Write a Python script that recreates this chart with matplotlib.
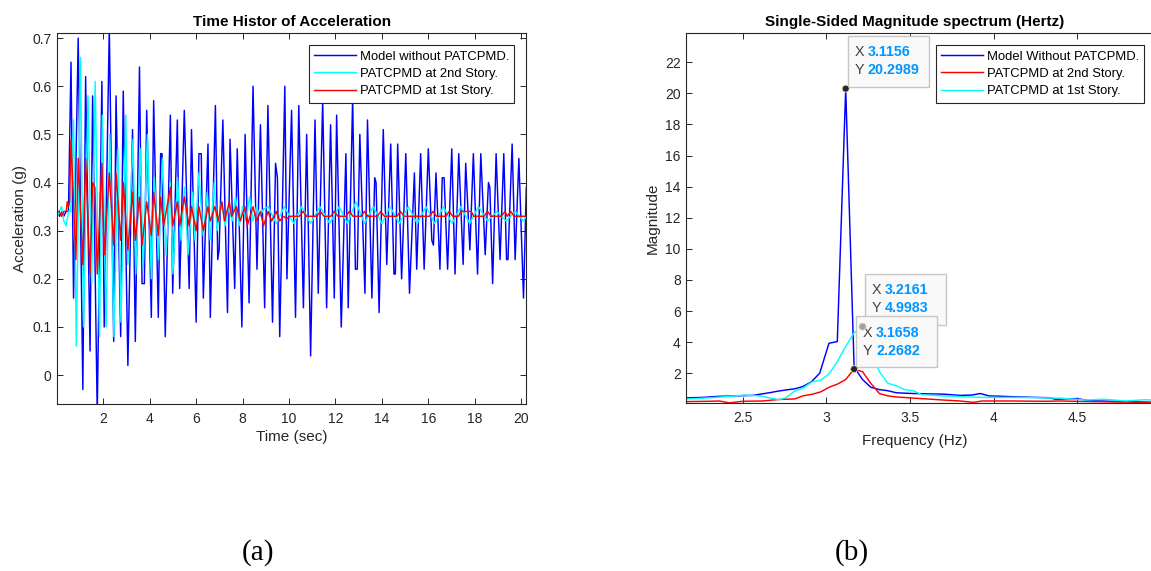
import matplotlib
matplotlib.use("Agg")
import matplotlib.pyplot as plt
from matplotlib.patches import Rectangle, Ellipse

plt.rcParams['font.family'] = ['Liberation Sans', 'DejaVu Sans']

# ---------------- data: time history (left) ----------------
t_blue = [0.02, 0.12, 0.22, 0.30, 0.40, 0.50, 0.61, 0.72, 0.92, 1.12, 1.24, 1.43, 1.54, 1.74,
          1.94, 2.04, 2.26, 2.45, 2.55, 2.75, 2.86, 3.06, 3.26, 3.38, 3.56, 3.67, 3.77, 3.87,
          4.07, 4.17, 4.37, 4.47, 4.53, 4.67, 4.89, 4.99, 5.19, 5.29, 5.49, 5.70, 5.80, 6.00,
          6.12, 6.22, 6.31, 6.51, 6.61, 6.83, 6.93, 6.99, 7.15, 7.35, 7.46, 7.66, 7.77, 7.97,
          8.11, 8.28, 8.45, 8.62, 8.77, 8.95, 9.09, 9.29, 9.42, 9.50, 9.60, 9.82, 9.91, 10.11,
          10.28, 10.42, 10.62, 10.76, 10.93, 11.12, 11.26, 11.45, 11.62, 11.79, 11.95, 12.05,
          12.25, 12.45, 12.55, 12.74, 12.86, 12.94, 13.05, 13.27, 13.38, 13.57, 13.69, 13.75,
          13.88, 14.06, 14.21, 14.38, 14.52, 14.58, 14.68, 14.85, 15.03, 15.19, 15.40, 15.50,
          15.67, 15.82, 16.00, 16.15, 16.22, 16.33, 16.50, 16.60, 16.68, 16.83, 17.01, 17.15,
          17.31, 17.50, 17.61, 17.79, 17.94, 18.12, 18.26, 18.45, 18.59, 18.65, 18.77, 18.92,
          19.09, 19.25, 19.37, 19.43, 19.61, 19.74, 19.90, 20.10, 20.22]
v_blue = [0.34, 0.33, 0.34, 0.33, 0.34, 0.34, 0.65, 0.16, 0.70, -0.03, 0.62, 0.05, 0.58, -0.08,
          0.61, 0.10, 0.72, 0.07, 0.58, 0.08, 0.59, 0.02, 0.51, 0.07, 0.64, 0.19, 0.19, 0.55,
          0.12, 0.57, 0.12, 0.46, 0.46, 0.08, 0.54, 0.17, 0.53, 0.18, 0.55, 0.18, 0.51, 0.11,
          0.46, 0.46, 0.16, 0.48, 0.12, 0.56, 0.24, 0.26, 0.53, 0.13, 0.49, 0.18, 0.47, 0.10,
          0.50, 0.15, 0.60, 0.22, 0.52, 0.14, 0.56, 0.11, 0.44, 0.41, 0.08, 0.60, 0.20, 0.55,
          0.12, 0.56, 0.14, 0.50, 0.04, 0.53, 0.17, 0.57, 0.14, 0.52, 0.16, 0.54,
          0.10, 0.46, 0.14, 0.575, 0.22, 0.22, 0.50, 0.17, 0.53, 0.16, 0.41, 0.40,
          0.13, 0.51, 0.23, 0.48, 0.21, 0.21, 0.48, 0.20, 0.46, 0.17, 0.42, 0.22,
          0.46, 0.22, 0.47, 0.28, 0.27, 0.42, 0.22, 0.41, 0.41, 0.22, 0.47, 0.21,
          0.46, 0.23, 0.44, 0.26, 0.46, 0.21, 0.46, 0.25, 0.40, 0.39, 0.19, 0.46,
          0.24, 0.46, 0.24, 0.24, 0.48, 0.24, 0.45, 0.16, 0.39]

t_cyan = [0.02, 0.10, 0.20, 0.30, 0.40, 0.50, 0.60, 0.72, 0.84, 1.02, 1.15, 1.34, 1.50, 1.65,
          1.84, 1.96, 2.12, 2.28, 2.46, 2.63, 2.76, 2.97, 3.06, 3.28, 3.40, 3.60, 3.72, 3.90,
          4.07, 4.20, 4.38, 4.55, 4.70, 4.89, 5.00, 5.20, 5.35, 5.50, 5.65, 5.86, 5.95, 6.12,
          6.30, 6.48, 6.60, 6.78, 6.90, 7.10, 7.25, 7.40, 7.55, 7.70, 7.85, 8.00, 8.15, 8.30,
          8.45, 8.60, 8.75, 8.90, 9.10, 9.45, 9.80, 10.20, 10.54, 10.93, 11.33, 11.75, 12.16,
          12.52, 12.88, 13.25, 13.63, 14.00, 14.35, 14.75, 15.14, 15.52, 15.90, 16.28, 16.65,
          17.02, 17.40, 17.78, 18.16, 18.55, 18.95, 19.35, 19.74, 20.10, 20.22]
v_cyan = [0.33, 0.34, 0.35, 0.32, 0.31, 0.34, 0.34, 0.53, 0.06, 0.66, 0.10, 0.58, 0.19, 0.61,
          0.08, 0.54, 0.10, 0.50, 0.08, 0.47, 0.11, 0.54, 0.23, 0.49, 0.21, 0.47, 0.22, 0.50,
          0.20, 0.41, 0.24, 0.45, 0.25, 0.40, 0.21, 0.41, 0.28, 0.39, 0.25, 0.38, 0.28, 0.42,
          0.29, 0.38, 0.28, 0.40, 0.30, 0.36, 0.31, 0.35, 0.32, 0.37, 0.31, 0.35, 0.32, 0.37,
          0.32, 0.35, 0.33, 0.345, 0.35, 0.315, 0.35, 0.315, 0.35, 0.315, 0.35, 0.315, 0.35,
          0.315, 0.36, 0.315, 0.35, 0.315, 0.35, 0.315, 0.35, 0.315, 0.35, 0.315, 0.35,
          0.315, 0.35, 0.315, 0.35, 0.32, 0.34, 0.32, 0.34, 0.32, 0.33]

t_red = [0.02, 0.10, 0.20, 0.30, 0.40, 0.45, 0.50, 0.55, 0.61, 0.82, 0.92, 1.12, 1.24, 1.43,
         1.54, 1.64, 1.74, 1.94, 2.04, 2.26, 2.45, 2.55, 2.75, 2.86, 3.06, 3.26, 3.38, 3.56,
         3.67, 3.87, 4.07, 4.17, 4.37, 4.47, 4.60, 4.89, 4.99, 5.19, 5.29, 5.49, 5.70, 5.80,
         6.00, 6.12, 6.31, 6.51, 6.61, 6.81, 6.95, 7.11, 7.22, 7.43, 7.53, 7.73, 7.90, 8.10,
         8.20, 8.45, 8.60, 8.77, 8.90, 9.10, 9.25, 9.45, 9.60, 9.75, 9.90, 10.05, 10.45, 10.60,
         10.75, 11.20, 11.35, 11.50, 11.80, 11.95, 12.10, 12.45, 12.60, 12.75, 13.10, 13.25,
         13.40, 13.80, 13.95, 14.10, 14.65, 14.80, 14.95, 16.05, 16.20, 16.35, 16.75, 16.90,
         17.05, 17.30, 17.40, 17.85, 17.95, 18.40, 18.55, 18.70, 19.15, 19.30, 19.40, 19.55,
         19.70, 20.22]
v_red = [0.34, 0.34, 0.33, 0.34, 0.34, 0.36, 0.35, 0.36, 0.49, 0.24, 0.45, 0.23, 0.45, 0.21,
         0.40, 0.39, 0.21, 0.44, 0.25, 0.42, 0.27, 0.42, 0.28, 0.40, 0.26, 0.38, 0.28, 0.37,
         0.27, 0.36, 0.29, 0.38, 0.29, 0.37, 0.31, 0.39, 0.31, 0.36, 0.31, 0.37, 0.31, 0.35,
         0.30, 0.35, 0.30, 0.35, 0.32, 0.35, 0.32, 0.36, 0.32, 0.36, 0.33, 0.35, 0.32, 0.35,
         0.31, 0.35, 0.32, 0.34, 0.31, 0.34, 0.32, 0.34, 0.32, 0.33, 0.325, 0.33, 0.33, 0.34,
         0.33, 0.33, 0.34, 0.33, 0.33, 0.34, 0.33, 0.33, 0.34, 0.33, 0.33, 0.34,
         0.33, 0.33, 0.34, 0.33, 0.33, 0.34, 0.33, 0.33, 0.34, 0.33, 0.33, 0.34,
         0.33, 0.33, 0.34, 0.34, 0.33, 0.33, 0.34, 0.33, 0.33, 0.34, 0.33, 0.34,
         0.33, 0.33]

# ---------------- data: spectrum (right) ----------------
f_blue = [2.163, 2.26, 2.36, 2.46, 2.56, 2.66, 2.71, 2.76, 2.81, 2.86, 2.91, 2.96, 3.0156,
          3.0654, 3.1156, 3.1658, 3.216, 3.266, 3.317, 3.367, 3.417, 3.47, 3.52, 3.60, 3.70,
          3.80, 3.87, 3.92, 3.97, 4.05, 4.15, 4.25, 4.33, 4.37, 4.45, 4.50, 4.57, 4.70, 4.80, 4.98]
m_blue = [0.42, 0.45, 0.52, 0.55, 0.58, 0.75, 0.85, 0.93, 1.00, 1.15, 1.45, 2.00, 3.93,
          4.04, 20.2989, 2.40, 1.60, 1.10, 0.95, 0.88, 0.75, 0.72, 0.70, 0.68, 0.66,
          0.58, 0.60, 0.70, 0.55, 0.52, 0.48, 0.45, 0.43, 0.33, 0.36, 0.37, 0.24, 0.20, 0.18, 0.12]

f_red = [2.163, 2.30, 2.36, 2.42, 2.50, 2.62, 2.72, 2.81, 2.86, 2.915, 2.965, 3.0156, 3.0654,
         3.1156, 3.1658, 3.2161, 3.266, 3.317, 3.367, 3.417, 3.50, 3.60, 3.70, 3.80, 3.88,
         3.93, 4.10, 4.30, 4.40, 4.57, 4.70, 4.98]
m_red = [0.18, 0.20, 0.22, 0.10, 0.20, 0.22, 0.32, 0.35, 0.55, 0.65, 0.80, 1.10, 1.30,
         1.60, 2.2682, 2.10, 1.35, 0.70, 0.55, 0.48, 0.42, 0.35, 0.28, 0.22, 0.13,
         0.22, 0.22, 0.20, 0.22, 0.18, 0.16, 0.12]

f_cyan = [2.163, 2.30, 2.40, 2.51, 2.60, 2.66, 2.72, 2.76, 2.81, 2.86, 2.915, 2.965, 3.0156,
          3.0654, 3.1156, 3.1658, 3.2161, 3.266, 3.317, 3.367, 3.417, 3.467, 3.52, 3.57, 3.70,
          3.80, 3.92, 4.10, 4.30, 4.40, 4.55, 4.66, 4.79, 4.90, 4.98]
m_cyan = [0.35, 0.42, 0.50, 0.60, 0.55, 0.42, 0.30, 0.45, 0.85, 1.05, 1.45, 1.55, 1.95,
          2.75, 3.72, 4.60, 4.9983, 3.60, 2.10, 1.36, 1.20, 0.95, 0.88, 0.62, 0.55,
          0.50, 0.45, 0.45, 0.42, 0.40, 0.28, 0.33, 0.22, 0.30, 0.27]

# data tips
tip_x = [3.1156, 3.2161, 3.1658]
tip_y = [20.2989, 4.9983, 2.2682]
tip_xlabel = ['3.1156', '3.2161', '3.1658']
tip_ylabel = ['20.2989', '4.9983', '2.2682']

left_labels = ['Model without PATCPMD.', 'PATCPMD at 2nd Story.', 'PATCPMD at 1st Story.']
right_labels = ['Model Without PATCPMD.', 'PATCPMD at 2nd Story.', 'PATCPMD at 1st Story.']

# ---------------- figure ----------------
W, H = 1151, 571
fig = plt.figure(figsize=(W / 100, H / 100), dpi=100)
DARK = '#262626'

def px_axes(l, t, r, b):
    return fig.add_axes([l / W, 1 - b / H, (r - l) / W, (b - t) / H])

ax1 = px_axes(57.3, 33.3, 526.3, 404)
ax2 = px_axes(686.3, 33.3, 1158, 403)

for ax in (ax1, ax2):
    for s in ax.spines.values():
        s.set_color(DARK)
        s.set_linewidth(0.8)
    ax.tick_params(direction='in', top=True, right=True, length=4, width=0.7,
                   color=DARK, labelcolor=DARK, labelsize=10)

# left
l1, = ax1.plot(t_blue, v_blue, color='#0000ff', lw=1.05)
l2, = ax1.plot(t_cyan, v_cyan, color='#00ffff', lw=1.05)
l3, = ax1.plot(t_red, v_red, color='#ff0000', lw=1.05)
ax1.set_xlim(0.02, 20.22)
ax1.set_ylim(-0.06, 0.71)
ax1.set_xticks([2, 4, 6, 8, 10, 12, 14, 16, 18, 20])
ax1.set_yticks([0, 0.1, 0.2, 0.3, 0.4, 0.5, 0.6, 0.7])
ax1.set_yticklabels(['0', '0.1', '0.2', '0.3', '0.4', '0.5', '0.6', '0.7'])
ax1.tick_params(axis='x', pad=6)
ax1.tick_params(axis='y', pad=4)
ax1.set_title('Time Histor of Acceleration', fontsize=11, fontweight='bold', pad=5, color='black')
ax1.set_xlabel('Time (sec)', fontsize=11, color=DARK, labelpad=3)
ax1.set_ylabel('Acceleration (g)', fontsize=11, color=DARK, labelpad=4)
leg1 = ax1.legend([l1, l2, l3], left_labels, loc='upper right',
                  bbox_to_anchor=(514.4 / W, 1 - 45.3 / H), bbox_transform=fig.transFigure,
                  borderaxespad=0, fontsize=9.4, fancybox=False, framealpha=1,
                  edgecolor=DARK, handlelength=3.2, handletextpad=0.3,
                  labelspacing=0.4, borderpad=0.4)
leg1.get_frame().set_linewidth(0.8)

# right
r1, = ax2.plot(f_blue, m_blue, color='#0000ff', lw=1.05)
r2, = ax2.plot(f_red, m_red, color='#ff0000', lw=1.05)
r3, = ax2.plot(f_cyan, m_cyan, color='#00ffff', lw=1.05)
ax2.set_xlim(2.163, 4.982)
ax2.set_ylim(0.09, 23.86)
ax2.set_xticks([2.5, 3, 3.5, 4, 4.5])
ax2.set_xticklabels(['2.5', '3', '3.5', '4', '4.5'])
ax2.set_yticks([2, 4, 6, 8, 10, 12, 14, 16, 18, 20, 22])
ax2.tick_params(axis='x', pad=6)
ax2.tick_params(axis='y', pad=4)
ax2_w = 1158 - 686.3
ax2.set_title('Single-Sided Magnitude spectrum (Hertz)', fontsize=11, fontweight='bold',
              pad=5, color='black', x=(915 - 686.3) / ax2_w)
ax2.set_xlabel('Frequency (Hz)', fontsize=11, color=DARK, labelpad=3)
ax2.xaxis.set_label_coords((915 - 686.3) / ax2_w, -0.085)
ax2.set_ylabel('Magnitude', fontsize=11, color=DARK, labelpad=4)
leg2 = ax2.legend([r1, r2, r3], right_labels, loc='upper right',
                  bbox_to_anchor=(1144.2 / W, 1 - 45.3 / H), bbox_transform=fig.transFigure,
                  borderaxespad=0, fontsize=9.4, fancybox=False, framealpha=1,
                  edgecolor=DARK, handlelength=3.2, handletextpad=0.3,
                  labelspacing=0.4, borderpad=0.4)
leg2.get_frame().set_linewidth(0.8)

# data tips (drawn in pixel space of the figure)
fig.canvas.draw()
marker_colors = [DARK, '#a0a0a0', DARK]
for i in range(3):
    px, py = ax2.transData.transform((tip_x[i], tip_y[i]))
    bx, by = px + 2, py + 2
    bw, bh = 81, 51
    fig.patches.append(Rectangle((bx / W, by / H), bw / W, bh / H, transform=fig.transFigure,
                                 facecolor='#f9f9f9', edgecolor='#c6c6c6', lw=1.0, zorder=5))
    for j, (lab, val) in enumerate([('X', tip_xlabel[i]), ('Y', tip_ylabel[i])]):
        yy = by + bh - 16.5 - 18.3 * j
        fig.text((bx + 7) / W, yy / H, lab, fontsize=10.3, color='#404040',
                 va='center', ha='left', zorder=6)
        fig.text((bx + 20) / W, yy / H, val, fontsize=10.3, color='#0096ff',
                 fontweight='bold', va='center', ha='left', zorder=6)
for i in range(3):
    px, py = ax2.transData.transform((tip_x[i], tip_y[i]))
    fig.patches.append(Ellipse((px / W, py / H), 7 / W, 7 / H, transform=fig.transFigure,
                               facecolor=marker_colors[i], edgecolor='#dedaa8', lw=0.6, zorder=7))

# captions
fig.text(258 / W, 1 - 553 / H, '(a)', fontsize=21, family='Liberation Serif',
         ha='center', va='center', color='black')
fig.text(852 / W, 1 - 553 / H, '(b)', fontsize=21, family='Liberation Serif',
         ha='center', va='center', color='black')

fig.savefig('out.png', dpi=100)
